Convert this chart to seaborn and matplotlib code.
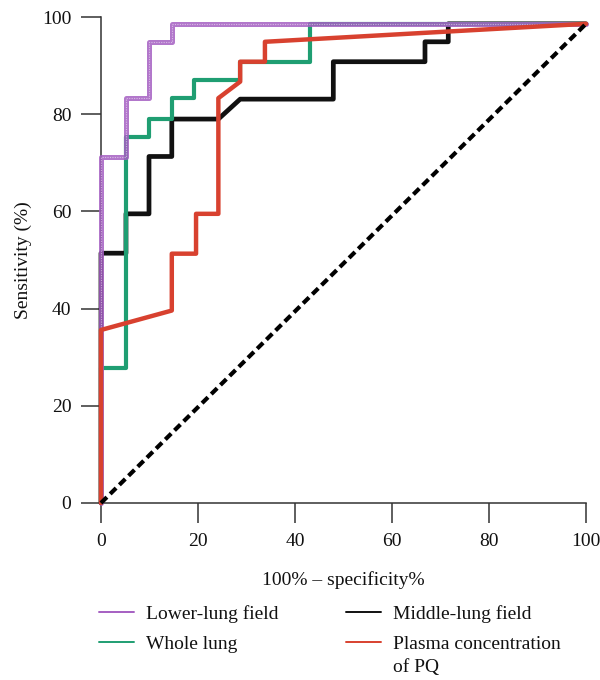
import numpy as np
import pandas as pd
import matplotlib
matplotlib.use("Agg")
import matplotlib.pyplot as plt
import seaborn as sns
from matplotlib.lines import Line2D

sns.set_theme(style="ticks")
plt.rcParams['font.family'] = ['Liberation Serif', 'DejaVu Serif']

# ROC vertices (100% - specificity, sensitivity)
lower_fpr = [0, 0, 5.15, 5.15, 9.9, 9.9, 14.6, 14.6, 100]
lower_tpr = [0, 71.2, 71.2, 83.3, 83.3, 94.9, 94.9, 98.6, 98.6]

whole_fpr = [0, 0, 5.15, 5.15, 9.9, 9.9, 14.6, 14.6, 19.2, 19.2, 28.7, 28.7, 43.1, 43.1, 100]
whole_tpr = [0, 27.8, 27.8, 75.4, 75.4, 79.0, 79.0, 83.3, 83.3, 87.0, 87.0, 90.8, 90.8, 98.6, 98.6]

middle_fpr = [0, 0, 5.15, 5.15, 9.9, 9.9, 14.6, 14.6, 24.2, 28.7, 47.9, 47.9, 66.8, 66.8, 71.6, 71.6, 100]
middle_tpr = [0, 51.4, 51.4, 59.5, 59.5, 71.3, 71.3, 79.0, 79.0, 83.1, 83.1, 90.8, 90.8, 94.9, 94.9, 98.6, 98.6]

plasma_fpr = [0, 0, 14.6, 14.6, 19.6, 19.6, 24.2, 24.2, 28.7, 28.7, 33.8, 33.8, 100]
plasma_tpr = [0, 35.6, 39.6, 51.3, 51.3, 59.5, 59.5, 83.3, 86.7, 90.8, 90.8, 94.9, 98.6]

ref_fpr = [0, 100]
ref_tpr = [0, 98.6]

labels = ["Lower-lung field", "Whole lung", "Middle-lung field", "Plasma concentration\nof PQ"]
xticks = [0, 20, 40, 60, 80, 100]
yticks = [0, 20, 40, 60, 80, 100]

c_purple = "#a55fc2"
c_green = "#1f9e72"
c_black = "#111111"
c_red = "#d8412f"

fig = plt.figure(figsize=(6, 6.8), dpi=100)
ax = fig.add_axes([0.1683, 0.2603, 0.8084, 0.7147])

def draw(x, y, color, lw, z, **kw):
    df = pd.DataFrame({"x": x, "y": y})
    sns.lineplot(data=df, x="x", y="y", sort=False, estimator=None, ax=ax,
                 color=color, linewidth=lw, zorder=z, clip_on=False, **kw)

draw(middle_fpr, middle_tpr, c_black, 3.4, 2)
draw(whole_fpr, whole_tpr, c_green, 3.0, 3)
draw(lower_fpr, lower_tpr, c_purple, 3.6, 4, alpha=0.85)
# white dotted texture on the purple line
dfp = pd.DataFrame({"x": lower_fpr, "y": lower_tpr})
sns.lineplot(data=dfp, x="x", y="y", sort=False, estimator=None, ax=ax,
             color="white", linewidth=0.8, zorder=4.5, clip_on=False,
             alpha=0.5)
ax.lines[-1].set_dashes((1, 1.2))
draw(plasma_fpr, plasma_tpr, c_red, 3.2, 5)
dfr = pd.DataFrame({"x": ref_fpr, "y": ref_tpr})
sns.lineplot(data=dfr, x="x", y="y", sort=False, estimator=None, ax=ax,
             color="black", linewidth=3.0, zorder=6, clip_on=False)
ax.lines[-1].set_dashes((2.0, 1.1))

ax.set_xlim(0, 100)
ax.set_ylim(0, 100)
ax.set_xticks(xticks)
ax.set_yticks(yticks)
ax.set_xticklabels([str(v) for v in xticks])
ax.set_yticklabels([str(v) for v in yticks])
sns.despine(ax=ax)
for s in ["left", "bottom"]:
    ax.spines[s].set_linewidth(1.1)
    ax.spines[s].set_color("#333333")
ax.tick_params(direction="out", length=14.4, width=1.1, color="#333333",
               labelsize=14, labelcolor="#111111")
ax.tick_params(axis="x", pad=7.5)
ax.tick_params(axis="y", pad=7)
ax.set_xlabel("100% – specificity%", fontsize=14, labelpad=15, color="#111111")
ax.set_ylabel("Sensitivity (%)", fontsize=14, labelpad=7, color="#111111")

handles = [Line2D([], [], color=c_purple, lw=1.4),
           Line2D([], [], color=c_green, lw=1.4),
           Line2D([], [], color=c_black, lw=1.4),
           Line2D([], [], color=c_red, lw=1.4)]
first_lines = [lab.split("\n")[0] for lab in labels]
leg = fig.legend(handles, first_lines, loc="upper left",
                 bbox_to_anchor=(0.165, 0.1103), bbox_transform=fig.transFigure,
                 ncol=2, frameon=False, fontsize=14, handlelength=1.8,
                 handletextpad=0.6, columnspacing=3.5, labelspacing=0.64,
                 borderaxespad=0, borderpad=0)
for t in leg.get_texts():
    t.set_color("#111111")

# continuation lines of wrapped legend labels, placed under their first line
fig.canvas.draw()
renderer = fig.canvas.get_renderer()
for lab, t in zip(labels, leg.get_texts()):
    parts = lab.split("\n")
    if len(parts) > 1:
        bb = t.get_window_extent(renderer)
        for k, extra in enumerate(parts[1:], start=1):
            fig.text(bb.x0, bb.y0 - 26 * k + 3, extra, fontsize=14,
                     color="#111111", ha="left", va="bottom",
                     transform=None)

fig.savefig("out.png", dpi=100)
